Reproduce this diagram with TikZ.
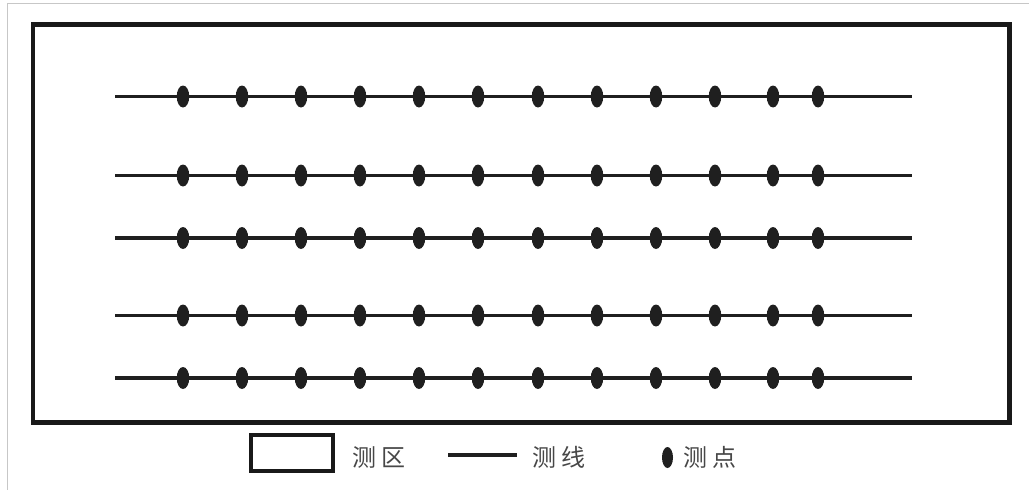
\documentclass[tikz,border=0pt]{standalone}
\usepackage{fontspec}
\usetikzlibrary{shapes.geometric}
\newfontfamily\cjk{Noto Sans CJK SC}
\begin{document}
\begin{tikzpicture}[x=1pt,y=-1pt,
  area/.style={draw=black!90, line width=4.5pt},
  survline/.style={draw=black!88, line width=3.4pt},
  spot/.style={fill=black!88, draw=none, ellipse, minimum width=12.5pt, minimum height=22pt, inner sep=0pt},
  legtext/.style={font=\cjk\fontsize{24}{24}\selectfont, text=black!72, inner sep=0pt, anchor=west}]
\useasboundingbox (0,0) rectangle (1029,490);
% faint screenshot frame
\coordinate (fTL) at (7.5,3.3);
\coordinate (fTR) at (1029,3.3);
\coordinate (fBL) at (7.5,490);
\draw[draw=black!22, line width=1.2pt] (fTR) -- (fTL) -- (fBL);
% survey area
\node[draw=none, inner sep=0pt, minimum width=976pt, minimum height=397.5pt, anchor=north west] (area) at (33,24.5) {};
\draw[area] (area.north west) rectangle (area.south east);
% survey lines and points
\foreach \i/\y in {1/96.5,2/175.5,3/238,4/315.5,5/378}{
  \coordinate (L\i a) at (115,\y);
  \coordinate (L\i b) at (912,\y);
  \draw[survline] (L\i a) -- (L\i b);
  \foreach \j/\x in {1/183,2/242,3/301,4/360,5/419,6/478,7/538,8/597,9/656,10/715,11/773,12/818}{
    \node[spot] (P\i-\j) at (\x,\y) {};
  }
}
% legend
\node[draw=none, inner sep=0pt, minimum width=82pt, minimum height=36pt, anchor=north west] (legbox) at (251,435) {};
\draw[draw=black!90, line width=4pt] (legbox.north west) rectangle (legbox.south east);
\node[legtext] (t1) at (352,457.5) {测\hspace{5pt}区};
\coordinate (la) at (448,455);
\coordinate (lb) at (517,455);
\draw[survline] (la) -- (lb);
\node[legtext] (t2) at (532,457.5) {测\hspace{5pt}线};
\node[spot, minimum width=11pt, minimum height=21pt] (ld) at (667.5,457.5) {};
\node[legtext] (t3) at (683,457.5) {测\hspace{5pt}点};
\end{tikzpicture}
\end{document}
